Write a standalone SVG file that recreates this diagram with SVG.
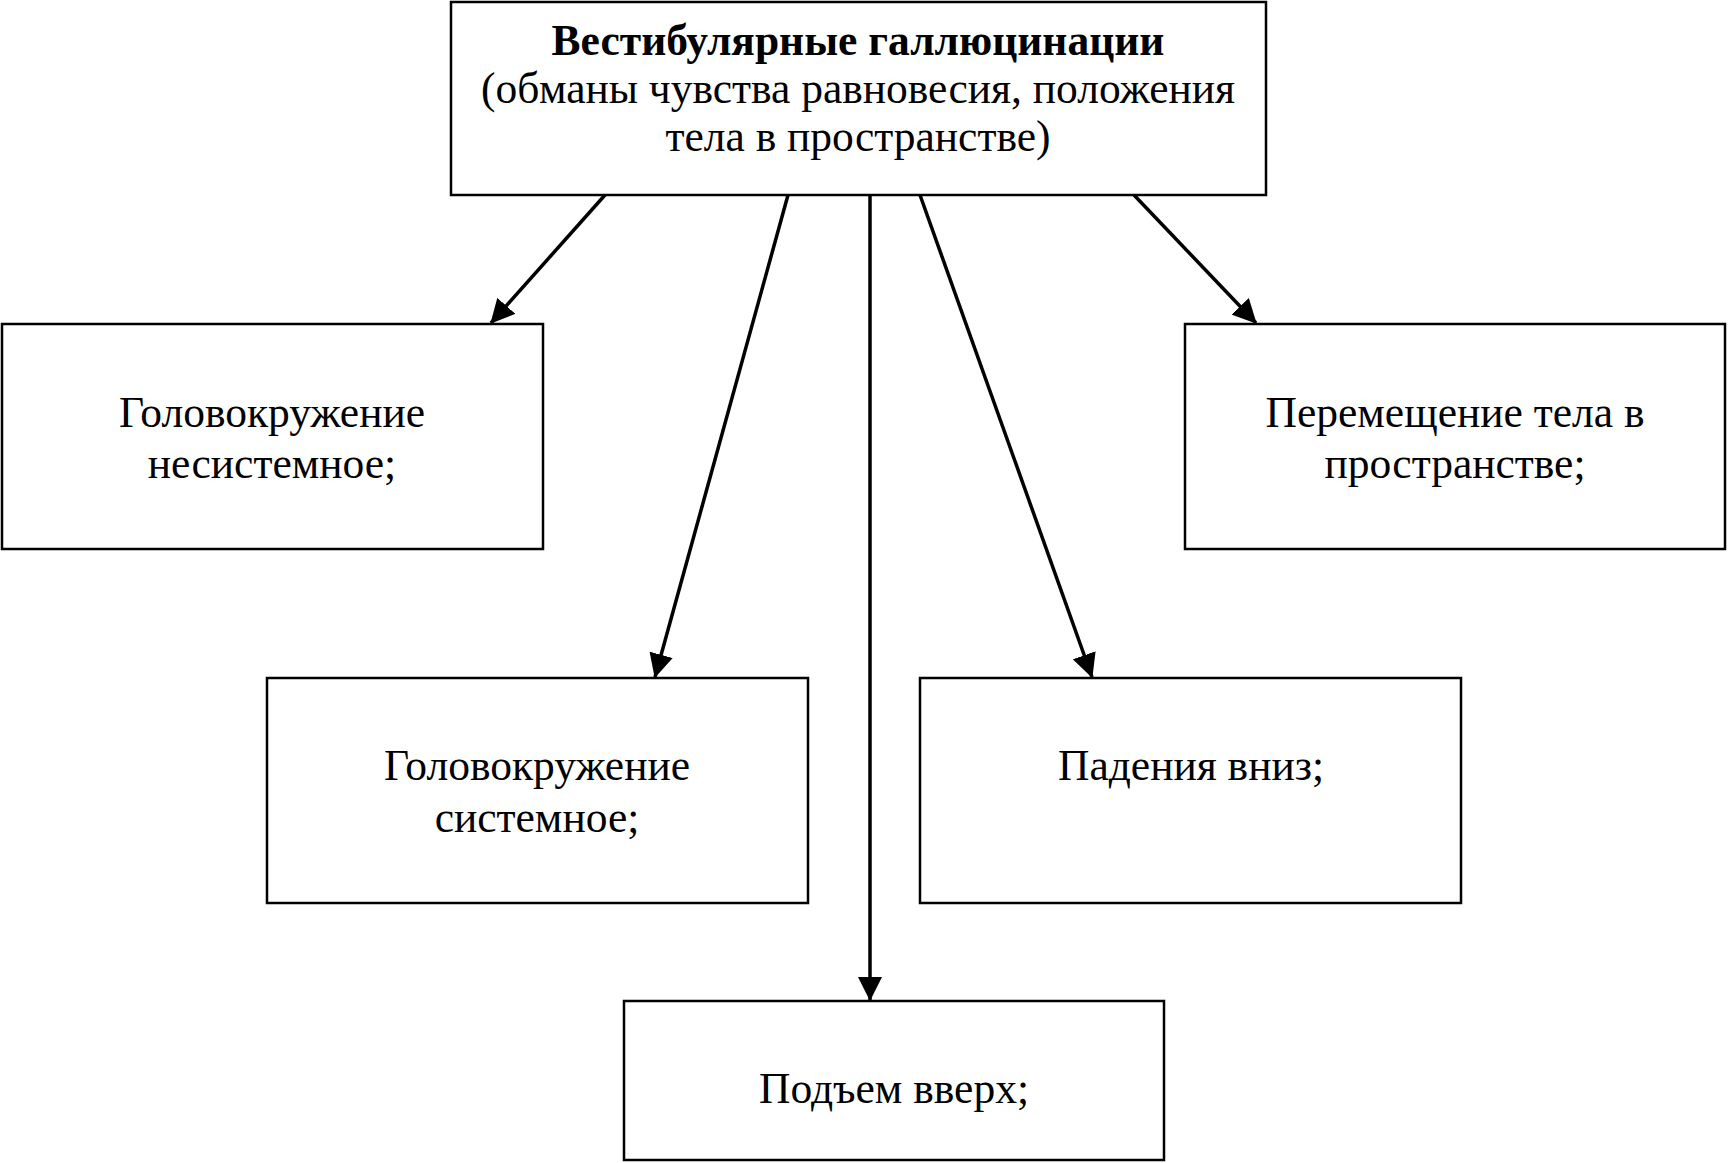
<svg xmlns="http://www.w3.org/2000/svg" width="1728" height="1163" viewBox="0 0 1728 1163">
<style>
.box{fill:#fff;stroke:#000;stroke-width:2.5}
.t{font-family:"Liberation Serif","Times New Roman",serif;font-size:43.5px;fill:#000;text-anchor:middle}
.b{font-weight:bold}
.c{stroke:#000;stroke-width:3.5;fill:none;marker-end:url(#ah)}
</style>
<defs>
<marker id="ah" markerUnits="userSpaceOnUse" markerWidth="24" markerHeight="24" viewBox="0 0 24 24" refX="23" refY="12" orient="auto">
<path d="M0,0 L24,12 L0,24 z" fill="#000"/>
</marker>
</defs>
<rect width="1728" height="1163" fill="#fff"/>
<g id="connectors">
<line class="c" x1="605" y1="195" x2="491" y2="323"/>
<line class="c" x1="788" y1="195" x2="655" y2="677"/>
<line class="c" x1="870" y1="195" x2="870" y2="1000"/>
<line class="c" x1="920" y1="195" x2="1092" y2="677"/>
<line class="c" x1="1134" y1="195" x2="1256" y2="323"/>
</g>
<g id="top">
<rect class="box" x="451" y="2" width="815" height="193"/>
<text class="t b" x="858" y="55">Вестибулярные галлюцинации</text>
<text class="t" x="858" y="103">(обманы чувства равновесия, положения</text>
<text class="t" x="858" y="151">тела в пространстве)</text>
</g>
<g id="n1">
<rect class="box" x="2" y="324" width="541" height="225"/>
<text class="t" x="272" y="427">Головокружение</text>
<text class="t" x="272" y="478">несистемное;</text>
</g>
<g id="n2">
<rect class="box" x="1185" y="324" width="540" height="225"/>
<text class="t" x="1455" y="427">Перемещение тела в</text>
<text class="t" x="1455" y="478">пространстве;</text>
</g>
<g id="n3">
<rect class="box" x="267" y="678" width="541" height="225"/>
<text class="t" x="537" y="780">Головокружение</text>
<text class="t" x="537" y="832">системное;</text>
</g>
<g id="n4">
<rect class="box" x="920" y="678" width="541" height="225"/>
<text class="t" x="1191" y="780">Падения вниз;</text>
</g>
<g id="n5">
<rect class="box" x="624" y="1001" width="540" height="159"/>
<text class="t" x="894" y="1103">Подъем вверх;</text>
</g>
</svg>
